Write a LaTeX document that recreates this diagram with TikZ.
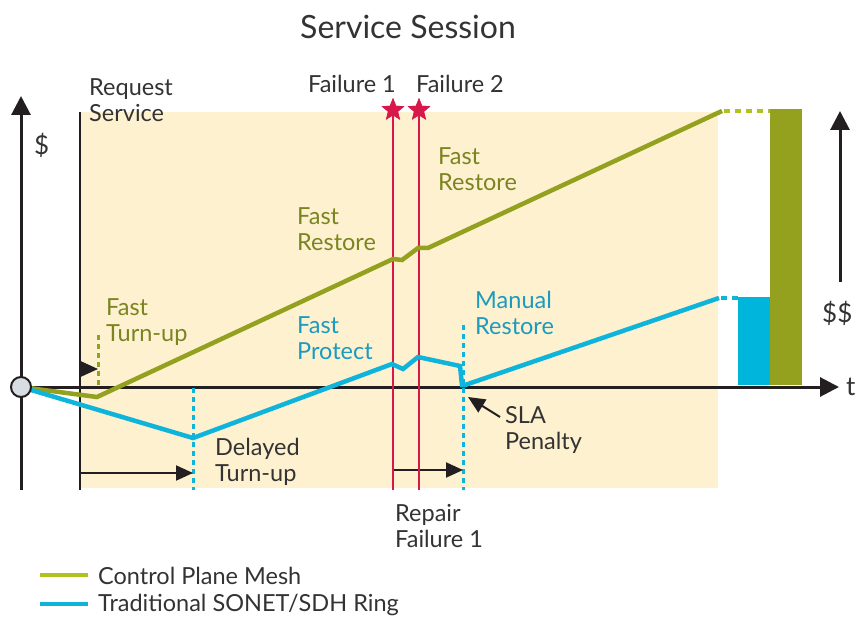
\documentclass[tikz,border=0pt]{standalone}
\usepackage{fontspec}
\setmainfont{Lato}
\usetikzlibrary{arrows.meta,shapes.geometric}
\definecolor{beige}{HTML}{FEF1D0}
\definecolor{meshgreen}{HTML}{93A11E}
\definecolor{meshlight}{HTML}{B3C022}
\definecolor{barblue}{HTML}{00B5DB}
\definecolor{ringblue}{HTML}{0FB4DA}
\definecolor{bluetext}{HTML}{1A9BBF}
\definecolor{greentext}{HTML}{7A8420}
\definecolor{failred}{HTML}{D8174B}
\definecolor{ink}{HTML}{231F20}
\definecolor{txt}{HTML}{333333}
\tikzset{
  lbl/.style={inner sep=0pt, align=left, anchor=west, text=txt, font=\fontsize{23.5}{25.5}\selectfont},
  glbl/.style={lbl, text=greentext},
  blbl/.style={lbl, text=bluetext},
  axisline/.style={draw=ink, line width=3pt},
  bigtip/.style={-{Triangle[length=19pt,width=19pt]}},
  smalltip/.style={-{Triangle[length=17pt,width=15pt]}},
  meshline/.style={draw=meshgreen, line width=4.5pt, line join=miter},
  ringline/.style={draw=ringblue, line width=4.5pt, line join=miter},
  faultline/.style={draw=failred, line width=2.5pt},
  failstar/.style={star, star points=5, star point ratio=2.3, fill=failred, minimum size=24pt, inner sep=0pt},
  marker/.style={dash pattern=on 5pt off 4pt, line width=3pt},
}
\begin{document}
\begin{tikzpicture}[x=1pt,y=-1pt]
\useasboundingbox (0,0) rectangle (856,617);

% session period
\fill[beige] (80,112) rectangle (718,488);

% cost bars
\fill[barblue] (738,297) rectangle (770,385);
\fill[meshgreen] (770,109) rectangle (802,385);

% key points
\coordinate (origin) at (21,387);
\coordinate (ytop) at (21,96);
\coordinate (ybot) at (21,490);
\coordinate (xend) at (839,387);
\coordinate (req top) at (80,112);
\coordinate (req bot) at (80,490);
\coordinate (f1 bot) at (393,490);
\coordinate (f2 bot) at (419,490);

% axes
\draw[axisline, bigtip] (ybot) -- (ytop);
\draw[axisline, bigtip] (origin) -- (xend);
\coordinate (dd low) at (840,282);
\coordinate (dd high) at (840,111);
\draw[axisline, bigtip] (dd low) -- (dd high);
\draw[draw=ink, line width=2pt] (req top) -- (req bot);

% turn-up markers
\coordinate (ft top) at (98,335);
\coordinate (ft bot) at (98,388);
\draw[marker, draw=meshgreen] (ft top) -- (ft bot);
\coordinate (dt top) at (193,388);
\coordinate (dt bot) at (193,490);
\draw[marker, draw=ringblue] (dt top) -- (dt bot);
\coordinate (mr top) at (463,325);
\coordinate (mr bot) at (463,490);
\draw[marker, draw=ringblue] (mr top) -- (mr bot);

% interval arrows
\coordinate (ft a) at (80,369);
\coordinate (ft b) at (98,369);
\draw[draw=ink, line width=2pt, smalltip] (ft a) -- (ft b);
\coordinate (dt a) at (80,473);
\coordinate (dt b) at (193,473);
\draw[draw=ink, line width=2pt, smalltip] (dt a) -- (dt b);
\coordinate (rp a) at (393,470);
\coordinate (rp b) at (463,470);
\draw[draw=ink, line width=2pt, smalltip] (rp a) -- (rp b);

% failures
\node[failstar] (star1) at (393,110) {};
\node[failstar] (star2) at (419,110) {};
\draw[faultline] (star1.center) -- (f1 bot);
\draw[faultline] (star2.center) -- (f2 bot);
\node[failstar] at (star1.center) {};
\node[failstar] at (star2.center) {};

% control plane mesh cost
\draw[meshline] (origin) -- (97,397) -- (393,259) -- (402,260) -- (418,248) -- (428,248) -- (722,111);
\draw[draw=meshlight, line width=4.5pt, dash pattern=on 6pt off 5pt] (724,111) -- (770,111);

% traditional ring cost
\draw[ringline] (origin) -- (193,438) -- (392,364) -- (403,369) -- (418,357) -- (460,366) -- (462,385) -- (465,385) -- (719,298);
\draw[draw=ringblue, line width=4.5pt, dash pattern=on 6pt off 5pt] (721,298) -- (738,298);

% origin marker
\node[circle, draw=ink, line width=2pt, fill={rgb,255:red,216;green,221;blue,227}, minimum size=20pt, inner sep=0pt] (start) at (origin) {};

% SLA penalty pointer
\coordinate (sla a) at (500,417);
\coordinate (sla b) at (468,397);
\draw[draw=ink, line width=2pt, smalltip] (sla a) -- (sla b);

% texts
\node[inner sep=0pt, text=txt, font=\fontsize{32}{36}\selectfont] (title) at (408,27) {Service Session};
\node[lbl] (request) at (89,100) {Request\\Service};
\node[lbl, font=\fontsize{26}{28}\selectfont] (dollar) at (34,145) {\$};
\node[lbl, anchor=center] (fail1) at (352,84) {Failure 1};
\node[lbl, anchor=center] (fail2) at (460,84) {Failure 2};
\node[glbl] (fr upper) at (438,169) {Fast\\Restore};
\node[glbl] (fr lower) at (297,229) {Fast\\Restore};
\node[glbl] (fturn) at (106,322) {Fast\\Turn-up};
\node[blbl] (fprot) at (297,338) {Fast\\Protect};
\node[blbl] (manual) at (475,313) {Manual\\Restore};
\node[lbl, font=\fontsize{26}{28}\selectfont] (dd) at (822,313) {\$\$};
\node[lbl, font=\fontsize{26}{28}\selectfont] (tlabel) at (846,387) {t};
\node[lbl] (sla) at (505,430) {SLA\\Penalty};
\node[lbl] (delayed) at (215,462) {Delayed\\Turn-up};
\node[lbl] (repair) at (395,526) {Repair\\Failure 1};

% legend
\coordinate (lg1 a) at (40,575);
\coordinate (lg1 b) at (88,575);
\coordinate (lg2 a) at (40,604);
\coordinate (lg2 b) at (88,604);
\draw[draw=meshlight, line width=4.5pt] (lg1 a) -- (lg1 b);
\draw[draw=ringblue, line width=4.5pt] (lg2 a) -- (lg2 b);
\node[lbl] (leg1) at (98,576) {Control Plane Mesh};
\node[lbl] (leg2) at (98,605) {Traditional SONET/SDH Ring};
\end{tikzpicture}
\end{document}
